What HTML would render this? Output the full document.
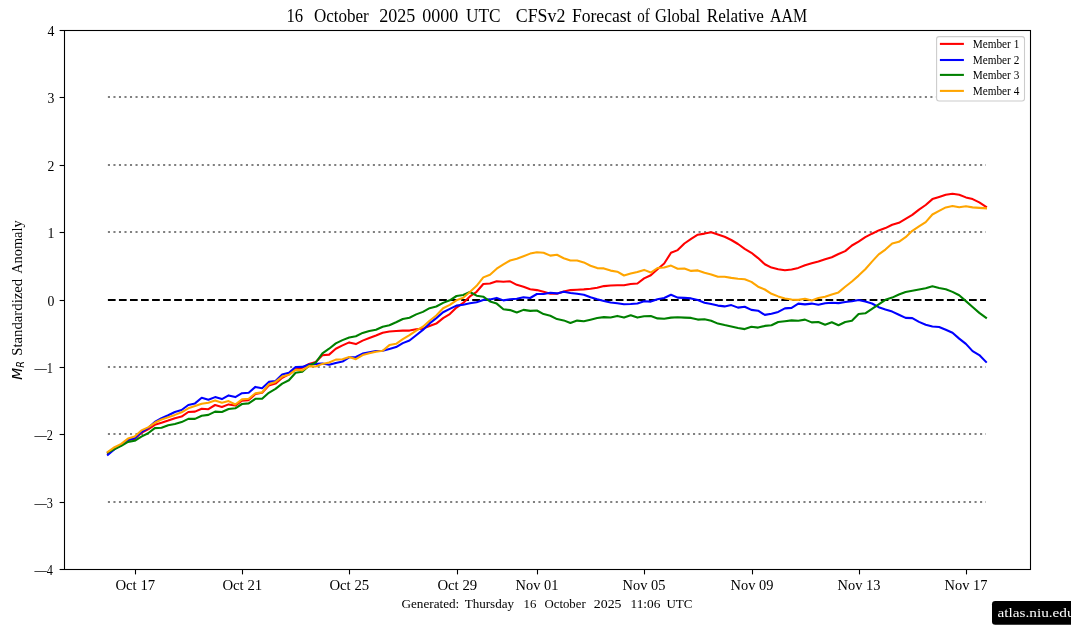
<!DOCTYPE html>
<html lang="en"><head><meta charset="utf-8"><title>CFSv2 Forecast of Global Relative AAM</title>
<style>html,body{margin:0;padding:0;background:#fff}body{width:1071px;height:638px;overflow:hidden}svg{display:block}text{font-family:"Liberation Serif","DejaVu Serif",serif;fill:#000}.tk{font-size:13.9px}.ti{font-size:18px}.lg{font-size:11.6px}.gn{font-size:13.2px}.mi{font-family:"DejaVu Sans","Liberation Sans",sans-serif;font-style:italic}</style></head><body>
<svg width="1071" height="638" viewBox="0 0 1071 638">
<rect x="0" y="0" width="1071" height="638" fill="#fff"/>
<line x1="107.9" x2="986.0" y1="502" y2="502" stroke="#808080" stroke-width="2.08" stroke-dasharray="2.08 3.44"/>
<line x1="107.9" x2="986.0" y1="434" y2="434" stroke="#808080" stroke-width="2.08" stroke-dasharray="2.08 3.44"/>
<line x1="107.9" x2="986.0" y1="367" y2="367" stroke="#808080" stroke-width="2.08" stroke-dasharray="2.08 3.44"/>
<line x1="107.9" x2="986.0" y1="232" y2="232" stroke="#808080" stroke-width="2.08" stroke-dasharray="2.08 3.44"/>
<line x1="107.9" x2="986.0" y1="165" y2="165" stroke="#808080" stroke-width="2.08" stroke-dasharray="2.08 3.44"/>
<line x1="107.9" x2="986.0" y1="97" y2="97" stroke="#808080" stroke-width="2.08" stroke-dasharray="2.08 3.44"/>
<line x1="107.9" x2="986.0" y1="300" y2="300" stroke="#000" stroke-width="2.08" stroke-dasharray="7.71 3.33"/>
<polyline points="107.9,453.1 114.6,448.5 121.3,444.8 128.0,439.9 134.7,439.0 141.4,432.7 148.1,429.4 154.8,424.8 161.5,422.8 168.2,420.6 174.9,418.2 181.6,416.6 188.3,412.0 195.0,411.6 201.7,408.7 208.4,409.2 215.1,405.0 221.9,407.0 228.6,404.4 235.3,405.6 242.0,400.7 248.7,400.1 255.4,394.1 262.1,392.8 268.8,385.6 275.5,383.6 282.2,377.7 288.9,374.4 295.6,369.1 302.3,367.8 309.0,363.9 315.7,361.9 322.4,355.3 329.1,354.6 335.8,348.7 342.5,345.4 349.2,342.4 355.9,344.1 362.6,340.6 369.3,338.0 376.0,335.5 382.7,332.8 389.4,331.5 396.1,331.0 402.8,330.6 409.5,330.6 416.2,329.3 422.9,328.6 429.6,326.0 436.3,323.6 443.1,318.1 449.8,314.1 456.5,307.6 463.2,302.9 469.9,296.4 476.6,291.8 483.3,284.0 490.0,283.5 496.7,281.2 503.4,281.8 510.1,281.3 516.8,284.8 523.5,286.8 530.2,289.2 536.9,290.1 543.6,291.7 550.3,293.8 557.0,293.8 563.7,291.4 570.4,290.1 577.1,289.8 583.8,289.4 590.5,288.8 597.2,287.7 603.9,286.1 610.6,285.5 617.3,285.3 624.0,285.3 630.7,284.0 637.4,283.5 644.1,278.4 650.8,275.2 657.5,269.3 664.2,263.5 671.0,252.8 677.7,250.1 684.4,243.5 691.1,238.9 697.8,234.7 704.5,233.6 711.2,232.3 717.9,234.4 724.6,236.8 731.3,240.0 738.0,244.0 744.7,248.8 751.4,252.8 758.1,258.1 764.8,264.2 771.5,267.6 778.2,269.2 784.9,270.3 791.6,269.5 798.3,267.9 805.0,265.2 811.7,263.3 818.4,261.5 825.1,259.3 831.8,257.2 838.5,254.0 845.2,251.1 851.9,245.5 858.6,241.6 865.3,237.2 872.0,233.7 878.7,230.4 885.4,228.1 892.2,224.8 898.9,222.8 905.6,218.9 912.3,214.9 919.0,209.6 925.7,205.0 932.4,199.1 939.1,196.9 945.8,194.8 952.5,193.8 959.2,194.8 965.9,197.4 972.6,199.1 979.3,202.4 986.0,206.7" fill="none" stroke="#ff0000" stroke-width="2.08" stroke-linejoin="round" stroke-linecap="square"/>
<polyline points="107.9,454.8 114.6,449.1 121.3,445.2 128.0,439.9 134.7,438.2 141.4,432.0 148.1,428.1 154.8,421.9 161.5,418.2 168.2,415.3 174.9,412.0 181.6,410.0 188.3,405.0 195.0,403.4 201.7,397.8 208.4,399.8 215.1,397.1 221.9,399.1 228.6,395.4 235.3,397.1 242.0,393.2 248.7,392.8 255.4,386.9 262.1,388.2 268.8,381.9 275.5,381.0 282.2,374.4 288.9,372.7 295.6,367.1 302.3,366.9 309.0,364.5 315.7,363.9 322.4,363.6 329.1,364.8 335.8,362.9 342.5,361.6 349.2,357.3 355.9,357.0 362.6,353.6 369.3,352.2 376.0,351.0 382.7,350.8 389.4,349.0 396.1,347.1 402.8,343.1 409.5,340.5 416.2,335.2 422.9,329.9 429.6,323.4 436.3,318.1 443.1,312.2 449.8,308.9 456.5,305.6 463.2,304.7 469.9,303.3 476.6,302.3 483.3,299.9 490.0,299.4 496.7,297.9 503.4,300.4 510.1,299.3 516.8,298.7 523.5,297.3 530.2,298.0 536.9,294.0 543.6,294.0 550.3,292.7 557.0,293.4 563.7,291.7 570.4,293.0 577.1,293.8 583.8,294.7 590.5,297.3 597.2,299.3 603.9,300.9 610.6,302.5 617.3,303.3 624.0,304.3 630.7,304.0 637.4,303.5 644.1,301.2 650.8,301.6 657.5,299.2 664.2,298.0 671.0,294.8 677.7,297.6 684.4,297.9 691.1,298.4 697.8,300.0 704.5,302.8 711.2,304.0 717.9,305.6 724.6,306.4 731.3,305.1 738.0,307.6 744.7,306.7 751.4,309.9 758.1,310.7 764.8,314.9 771.5,313.8 778.2,311.9 784.9,308.4 791.6,307.9 798.3,303.6 805.0,304.4 811.7,303.6 818.4,304.8 825.1,303.2 831.8,302.8 838.5,303.1 845.2,302.0 851.9,301.2 858.6,300.0 865.3,301.6 872.0,303.5 878.7,307.2 885.4,309.5 892.2,311.6 898.9,314.8 905.6,317.9 912.3,318.1 919.0,321.9 925.7,324.7 932.4,326.5 939.1,327.0 945.8,329.7 952.5,332.7 959.2,338.6 965.9,343.9 972.6,351.1 979.3,355.1 986.0,361.9" fill="none" stroke="#0000ff" stroke-width="2.08" stroke-linejoin="round" stroke-linecap="square"/>
<polyline points="107.9,452.4 114.6,449.1 121.3,445.9 128.0,441.9 134.7,440.8 141.4,436.6 148.1,433.3 154.8,428.1 161.5,427.7 168.2,425.2 174.9,423.9 181.6,422.1 188.3,418.9 195.0,418.9 201.7,415.8 208.4,414.9 215.1,411.6 221.9,412.0 228.6,409.0 235.3,408.3 242.0,404.0 248.7,403.4 255.4,398.8 262.1,398.8 268.8,392.8 275.5,388.9 282.2,383.6 288.9,380.3 295.6,372.7 302.3,371.8 309.0,365.8 315.7,362.5 322.4,353.3 329.1,348.7 335.8,343.4 342.5,340.1 349.2,337.5 355.9,336.2 362.6,332.9 369.3,330.9 376.0,329.7 382.7,326.7 389.4,325.3 396.1,322.3 402.8,319.0 409.5,317.7 416.2,314.4 422.9,311.9 429.6,308.2 436.3,306.5 443.1,302.9 449.8,300.3 456.5,296.0 463.2,295.0 469.9,292.0 476.6,295.7 483.3,296.7 490.0,301.5 496.7,303.6 503.4,309.2 510.1,310.1 516.8,312.5 523.5,309.9 530.2,310.9 536.9,310.5 543.6,314.1 550.3,315.8 557.0,319.1 563.7,320.4 570.4,323.0 577.1,320.6 583.8,321.3 590.5,319.7 597.2,318.0 603.9,317.1 610.6,317.5 617.3,315.9 624.0,317.6 630.7,315.2 637.4,317.6 644.1,316.3 650.8,316.0 657.5,318.4 664.2,318.7 671.0,317.6 677.7,317.2 684.4,317.6 691.1,317.9 697.8,319.6 704.5,319.2 711.2,320.8 717.9,323.6 724.6,325.1 731.3,326.4 738.0,328.0 744.7,329.1 751.4,326.8 758.1,327.6 764.8,325.9 771.5,325.3 778.2,322.0 784.9,321.2 791.6,320.4 798.3,320.7 805.0,319.6 811.7,322.4 818.4,322.0 825.1,324.7 831.8,322.3 838.5,325.2 845.2,322.0 851.9,320.8 858.6,314.0 865.3,313.3 872.0,308.8 878.7,304.4 885.4,299.8 892.2,297.6 898.9,294.5 905.6,292.0 912.3,290.8 919.0,289.5 925.7,288.3 932.4,286.3 939.1,287.9 945.8,289.2 952.5,291.9 959.2,295.2 965.9,301.1 972.6,307.0 979.3,312.9 986.0,317.8" fill="none" stroke="#008000" stroke-width="2.08" stroke-linejoin="round" stroke-linecap="square"/>
<polyline points="107.9,451.8 114.6,447.2 121.3,443.9 128.0,438.6 134.7,436.6 141.4,430.4 148.1,427.4 154.8,422.8 161.5,419.5 168.2,417.3 174.9,414.9 181.6,412.3 188.3,408.3 195.0,406.1 201.7,403.7 208.4,402.7 215.1,400.4 221.9,402.7 228.6,401.1 235.3,404.5 242.0,399.4 248.7,398.8 255.4,393.2 262.1,392.4 268.8,384.3 275.5,381.9 282.2,376.6 288.9,374.8 295.6,369.8 302.3,370.4 309.0,366.1 315.7,366.5 322.4,363.9 329.1,362.5 335.8,359.6 342.5,359.2 349.2,357.0 355.9,359.2 362.6,355.1 369.3,353.2 376.0,351.7 382.7,350.8 389.4,345.1 396.1,343.8 402.8,339.2 409.5,335.2 416.2,330.6 422.9,326.7 429.6,320.7 436.3,315.5 443.1,308.2 449.8,304.9 456.5,300.3 463.2,297.7 469.9,292.0 476.6,285.8 483.3,277.4 490.0,274.7 496.7,268.7 503.4,264.4 510.1,260.5 516.8,258.8 523.5,256.2 530.2,253.6 536.9,252.2 543.6,252.8 550.3,255.6 557.0,254.8 563.7,258.2 570.4,260.5 577.1,260.5 583.8,262.4 590.5,265.7 597.2,268.1 603.9,268.4 610.6,270.6 617.3,271.7 624.0,275.5 630.7,273.6 637.4,272.0 644.1,269.9 650.8,272.5 657.5,268.0 664.2,267.5 671.0,265.6 677.7,268.8 684.4,268.5 691.1,270.9 697.8,270.4 704.5,272.8 711.2,274.4 717.9,276.8 724.6,276.8 731.3,277.9 738.0,278.7 744.7,279.2 751.4,281.9 758.1,286.7 764.8,289.5 771.5,293.8 778.2,296.4 784.9,298.4 791.6,299.6 798.3,299.9 805.0,298.8 811.7,300.4 818.4,298.0 825.1,296.8 831.8,294.4 838.5,292.4 845.2,286.8 851.9,281.5 858.6,275.6 865.3,269.2 872.0,261.6 878.7,254.4 885.4,249.6 892.2,243.4 898.9,241.8 905.6,237.2 912.3,230.8 919.0,226.4 925.7,222.1 932.4,214.5 939.1,210.9 945.8,207.4 952.5,206.1 959.2,207.3 965.9,206.3 972.6,207.4 979.3,207.9 986.0,208.3" fill="none" stroke="#ffa500" stroke-width="2.08" stroke-linejoin="round" stroke-linecap="square"/>
<rect x="64.5" y="30.5" width="966.0" height="539.0" fill="none" stroke="#000" stroke-width="1.1"/>
<line x1="59.6" x2="64.5" y1="569.50" y2="569.50" stroke="#000" stroke-width="1.1"/>
<text class="tk" x="34.4" y="575.0" textLength="18.4" lengthAdjust="spacingAndGlyphs">—4</text>
<line x1="59.6" x2="64.5" y1="502.50" y2="502.50" stroke="#000" stroke-width="1.1"/>
<text class="tk" x="34.4" y="508.0" textLength="18.4" lengthAdjust="spacingAndGlyphs">—3</text>
<line x1="59.6" x2="64.5" y1="434.50" y2="434.50" stroke="#000" stroke-width="1.1"/>
<text class="tk" x="34.4" y="440.0" textLength="18.4" lengthAdjust="spacingAndGlyphs">—2</text>
<line x1="59.6" x2="64.5" y1="367.50" y2="367.50" stroke="#000" stroke-width="1.1"/>
<text class="tk" x="34.4" y="373.0" textLength="18.4" lengthAdjust="spacingAndGlyphs">—1</text>
<line x1="59.6" x2="64.5" y1="300.50" y2="300.50" stroke="#000" stroke-width="1.1"/>
<text class="tk" x="47.4" y="306.0" textLength="6.9" lengthAdjust="spacingAndGlyphs">0</text>
<line x1="59.6" x2="64.5" y1="232.50" y2="232.50" stroke="#000" stroke-width="1.1"/>
<text class="tk" x="47.4" y="238.0" textLength="6.9" lengthAdjust="spacingAndGlyphs">1</text>
<line x1="59.6" x2="64.5" y1="165.50" y2="165.50" stroke="#000" stroke-width="1.1"/>
<text class="tk" x="47.4" y="171.0" textLength="6.9" lengthAdjust="spacingAndGlyphs">2</text>
<line x1="59.6" x2="64.5" y1="97.50" y2="97.50" stroke="#000" stroke-width="1.1"/>
<text class="tk" x="47.4" y="103.0" textLength="6.9" lengthAdjust="spacingAndGlyphs">3</text>
<line x1="59.6" x2="64.5" y1="30.50" y2="30.50" stroke="#000" stroke-width="1.1"/>
<text class="tk" x="47.4" y="36.0" textLength="6.9" lengthAdjust="spacingAndGlyphs">4</text>
<line x1="135.5" x2="135.5" y1="569.5" y2="574.4" stroke="#000" stroke-width="1.1"/>
<text class="tk" x="115.4" y="590" style="font-size:14.4px" textLength="39.8" lengthAdjust="spacingAndGlyphs" xml:space="preserve">Oct 17</text>
<line x1="242.5" x2="242.5" y1="569.5" y2="574.4" stroke="#000" stroke-width="1.1"/>
<text class="tk" x="222.4" y="590" style="font-size:14.4px" textLength="39.8" lengthAdjust="spacingAndGlyphs" xml:space="preserve">Oct 21</text>
<line x1="349.5" x2="349.5" y1="569.5" y2="574.4" stroke="#000" stroke-width="1.1"/>
<text class="tk" x="329.4" y="590" style="font-size:14.4px" textLength="39.8" lengthAdjust="spacingAndGlyphs" xml:space="preserve">Oct 25</text>
<line x1="457.5" x2="457.5" y1="569.5" y2="574.4" stroke="#000" stroke-width="1.1"/>
<text class="tk" x="437.4" y="590" style="font-size:14.4px" textLength="39.8" lengthAdjust="spacingAndGlyphs" xml:space="preserve">Oct 29</text>
<line x1="537.5" x2="537.5" y1="569.5" y2="574.4" stroke="#000" stroke-width="1.1"/>
<text class="tk" x="515.6" y="590" style="font-size:14.4px" textLength="42.8" lengthAdjust="spacingAndGlyphs" xml:space="preserve">Nov 01</text>
<line x1="644.5" x2="644.5" y1="569.5" y2="574.4" stroke="#000" stroke-width="1.1"/>
<text class="tk" x="622.6" y="590" style="font-size:14.4px" textLength="42.8" lengthAdjust="spacingAndGlyphs" xml:space="preserve">Nov 05</text>
<line x1="752.5" x2="752.5" y1="569.5" y2="574.4" stroke="#000" stroke-width="1.1"/>
<text class="tk" x="730.6" y="590" style="font-size:14.4px" textLength="42.8" lengthAdjust="spacingAndGlyphs" xml:space="preserve">Nov 09</text>
<line x1="859.5" x2="859.5" y1="569.5" y2="574.4" stroke="#000" stroke-width="1.1"/>
<text class="tk" x="837.6" y="590" style="font-size:14.4px" textLength="42.8" lengthAdjust="spacingAndGlyphs" xml:space="preserve">Nov 13</text>
<line x1="966.5" x2="966.5" y1="569.5" y2="574.4" stroke="#000" stroke-width="1.1"/>
<text class="tk" x="944.6" y="590" style="font-size:14.4px" textLength="42.8" lengthAdjust="spacingAndGlyphs" xml:space="preserve">Nov 17</text>
<text class="ti" x="286.5" y="21.7" textLength="16.7" lengthAdjust="spacingAndGlyphs">16</text>
<text class="ti" x="313.9" y="21.7" textLength="54.9" lengthAdjust="spacingAndGlyphs">October</text>
<text class="ti" x="379.3" y="21.7" textLength="36.1" lengthAdjust="spacingAndGlyphs">2025</text>
<text class="ti" x="422.2" y="21.7" textLength="36.0" lengthAdjust="spacingAndGlyphs">0000</text>
<text class="ti" x="466.1" y="21.7" textLength="34.5" lengthAdjust="spacingAndGlyphs">UTC</text>
<text class="ti" x="515.8" y="21.7" textLength="49.6" lengthAdjust="spacingAndGlyphs">CFSv2</text>
<text class="ti" x="571.9" y="21.7" textLength="59.6" lengthAdjust="spacingAndGlyphs">Forecast</text>
<text class="ti" x="637.3" y="21.7" textLength="12.5" lengthAdjust="spacingAndGlyphs">of</text>
<text class="ti" x="655" y="21.7" textLength="45.0" lengthAdjust="spacingAndGlyphs">Global</text>
<text class="ti" x="706.8" y="21.7" textLength="57.0" lengthAdjust="spacingAndGlyphs">Relative</text>
<text class="ti" x="770" y="21.7" textLength="37.2" lengthAdjust="spacingAndGlyphs">AAM</text>
<text class="gn" x="401.4" y="608.2" textLength="57.9" lengthAdjust="spacingAndGlyphs">Generated:</text>
<text class="gn" x="464.7" y="608.2" textLength="49.3" lengthAdjust="spacingAndGlyphs">Thursday</text>
<text class="gn" x="523.6" y="608.2" textLength="12.8" lengthAdjust="spacingAndGlyphs">16</text>
<text class="gn" x="544.5" y="608.2" textLength="41.2" lengthAdjust="spacingAndGlyphs">October</text>
<text class="gn" x="593.8" y="608.2" textLength="27.7" lengthAdjust="spacingAndGlyphs">2025</text>
<text class="gn" x="630.5" y="608.2" textLength="29.9" lengthAdjust="spacingAndGlyphs">11:06</text>
<text class="gn" x="666.4" y="608.2" textLength="26.0" lengthAdjust="spacingAndGlyphs">UTC</text>
<g transform="translate(21.9,379.8) rotate(-90)"><text class="tk" x="0" y="0"><tspan class="mi" font-size="13.9">M</tspan><tspan class="mi" font-size="9.7" dy="2.2">R</tspan></text><text class="tk" style="font-size:14.5px" x="24" y="0" textLength="77" lengthAdjust="spacingAndGlyphs">Standardized</text><text class="tk" style="font-size:14.5px" x="106" y="0" textLength="53.4" lengthAdjust="spacingAndGlyphs">Anomaly</text></g>
<rect x="936.6" y="36.6" width="87.9" height="64.4" rx="2.5" ry="2.5" fill="#fff" stroke="#cccccc" stroke-width="1.1"/>
<line x1="939.9" x2="963.9" y1="43.9" y2="43.9" stroke="#ff0000" stroke-width="2.08"/>
<text class="lg" x="972.7" y="47.9" textLength="46.6" lengthAdjust="spacingAndGlyphs" xml:space="preserve">Member 1</text>
<line x1="939.9" x2="963.9" y1="60.0" y2="60.0" stroke="#0000ff" stroke-width="2.08"/>
<text class="lg" x="972.7" y="63.6" textLength="46.6" lengthAdjust="spacingAndGlyphs" xml:space="preserve">Member 2</text>
<line x1="939.9" x2="963.9" y1="74.9" y2="74.9" stroke="#008000" stroke-width="2.08"/>
<text class="lg" x="972.7" y="78.7" textLength="46.6" lengthAdjust="spacingAndGlyphs" xml:space="preserve">Member 3</text>
<line x1="939.9" x2="963.9" y1="90.9" y2="90.9" stroke="#ffa500" stroke-width="2.08"/>
<text class="lg" x="972.7" y="94.7" textLength="46.6" lengthAdjust="spacingAndGlyphs" xml:space="preserve">Member 4</text>
<rect x="992" y="601" width="100" height="23.7" rx="3.3" ry="3.3" fill="#000"/>
<text x="997.6" y="616.9" font-size="13.2" style="fill:#fff" textLength="77" lengthAdjust="spacingAndGlyphs">atlas.niu.edu</text>
</svg></body></html>
